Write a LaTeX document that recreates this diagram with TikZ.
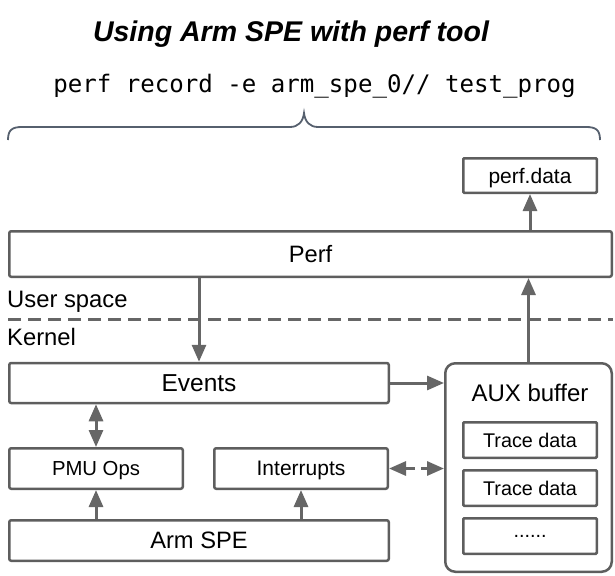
\documentclass[tikz,border=0pt]{standalone}
\usepackage{fontspec}
\setmainfont{Liberation Sans}
\setsansfont{Liberation Sans}
\setmonofont{DejaVu Sans Mono}
\usetikzlibrary{arrows.meta}
\usetikzlibrary{positioning}
\definecolor{boxGray}{HTML}{5E5E5E}
\definecolor{arrowGray}{HTML}{666666}
\definecolor{braceGray}{HTML}{56606E}
\tikzset{%
	>={Triangle[width=14pt,length=17pt]},
	% Specifications for style of nodes:
	base/.style = {rectangle, rounded corners=2pt, draw=boxGray, line width=2.5pt,
		inner sep=0pt, text centered, font=\sffamily},
	layerBox/.style = {base, minimum width=379.5pt, minimum height=40pt,
		font=\sffamily\fontsize{23.7}{28}\selectfont},
	opsBox/.style = {base, minimum width=173.5pt, minimum height=40.5pt, text depth=0pt,
		font=\sffamily\fontsize{20.3}{24}\selectfont},
	traceBox/.style = {base, rounded corners=1pt, minimum width=133.5pt, minimum height=35.5pt,
		font=\sffamily\fontsize{19.8}{24}\selectfont},
	bufferBox/.style = {base, rounded corners=10pt, minimum width=166.5pt, minimum height=208.5pt},
	spaceLabel/.style = {anchor=base west, inner sep=0pt, font=\sffamily\fontsize{23.8}{28}\selectfont},
	link/.style = {draw=arrowGray, line width=3pt},
}

\begin{document}
\begin{tikzpicture}[x=1pt, y=-1pt]
		\useasboundingbox (0,0) rectangle (615,575);
		% Specification of nodes (position, etc.)
		\node (title) [anchor=base, inner sep=0pt, font=\sffamily\bfseries\itshape\fontsize{28.5}{32}\selectfont] at (291,42) {Using Arm SPE with perf tool};
		\node (command) [anchor=base, inner sep=0pt, font=\ttfamily\fontsize{24.1}{28}\selectfont] at (314.5,93) {perf record -e arm\_spe\_0// test\_prog};
		\node (perfdata) [traceBox, minimum height=34.5pt, text depth=0pt, font=\sffamily\fontsize{21}{24}\selectfont] at (530,175.5) {perf.data};
		\node (perf)     [layerBox, minimum width=602.5pt, minimum height=45.5pt] at (310.5,254) {Perf};
		\node (userspace) [spaceLabel] at (7,307) {User space};
		\node (kernel)    [spaceLabel] at (7,345) {Kernel};
		\node (events)   [layerBox, font=\sffamily\fontsize{24.5}{28}\selectfont] at (199,383) {Events};
		\node (pmuops)   [opsBox] at (96,468.5) {PMU Ops};
		\node (interrupts) [opsBox, font=\sffamily\fontsize{21}{24}\selectfont] at (301,468.5) {Interrupts};
		\node (armspe)   [layerBox, minimum height=40.5pt] at (199,540.5) {Arm SPE};
		\node (auxbuf)   [bufferBox] at (528.5,467.5) {};
		\node (auxlabel) [anchor=base, inner sep=0pt, font=\sffamily\fontsize{24}{28}\selectfont] at (530,401) {AUX buffer};
		\node (trace1)   [traceBox] at (530,440) {Trace data};
		\node (trace2)   [traceBox, below=10pt of trace1] {Trace data};
		\node (more)     [traceBox, below=10pt of trace2] {......};
		% brace and user/kernel split
		\draw[braceGray, line width=1.8pt] (8,140) .. controls (8,130) and (12,127) .. (22,127) -- (290,127)
			.. controls (298,127) and (303,122) .. (304,113) .. controls (305,122) and (310,127) .. (318,127)
			-- (586,127) .. controls (596,127) and (600,130) .. (600,140);
		\draw[arrowGray, line width=3pt, dash pattern=on 13pt off 7pt] (8,319) -- (613,319);
		\draw[link, ->] (perfdata.south |- perf.north) -- (perfdata.south);
		\draw[link, ->] (events.north |- perf.south) -- (events.north);
		\draw[link, ->] (auxbuf.north) -- (auxbuf.north |- perf.south);
		\draw[link, ->] (events.east) -- (events.east -| auxbuf.west);
		\draw[link, <->] (pmuops.north) -- (pmuops.north |- events.south);
		\draw[link, <->, dash pattern=on 10pt off 6pt] (interrupts.east) -- (interrupts.east -| auxbuf.west);
		\draw[link, ->] (pmuops.south |- armspe.north) -- (pmuops.south);
		\draw[link, ->] (interrupts.south |- armspe.north) -- (interrupts.south);
	\end{tikzpicture}
\end{document}
